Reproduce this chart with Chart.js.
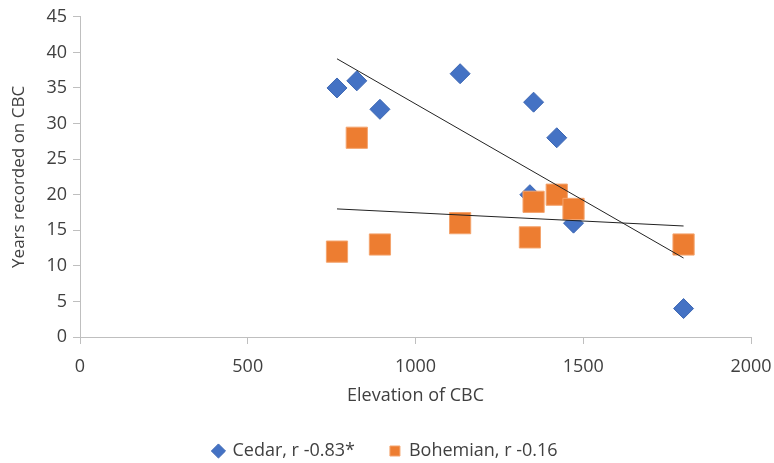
<!DOCTYPE html>
<html>
<head>
<meta charset="utf-8">
<script src="https://cdn.jsdelivr.net/npm/chart.js@4.4.0/dist/chart.umd.min.js"></script>
<style>
  html, body { margin: 0; padding: 0; background: #fff; }
  #wrap { width: 774px; height: 463px; }
</style>
</head>
<body>
<div id="wrap"><canvas id="chart"></canvas></div>
<script>
// elevation of each CBC site (m)
const elevation = [766, 825, 894, 1133, 1341, 1352, 1421, 1471, 1799];
const cedarYears = [35, 36, 32, 37, 20, 33, 28, 16, 4];
const bohemianYears = [12, 28, 13, 16, 14, 19, 20, 18, 13];

// linear trendline ends
const trendX = [766, 1799];
const cedarTrend = [39.1, 11.1];
const bohemianTrend = [18.0, 15.6];

const xTicks = [0, 500, 1000, 1500, 2000];
const yTicks = [0, 5, 10, 15, 20, 25, 30, 35, 40, 45];

const FONT = "'Open Sans', sans-serif";
const AXIS = "#bfbfbf";
const TEXT = "#404040";

const pts = (xs, ys) => xs.map((x, i) => ({ x: x, y: ys[i] }));

new Chart(document.getElementById("chart"), {
  type: "scatter",
  data: {
    datasets: [
      {
        label: "Cedar, r -0.83*",
        data: pts(elevation, cedarYears),
        pointStyle: "rectRot",
        pointRadius: 10,
        pointHoverRadius: 10,
        backgroundColor: "#4472c4",
        borderColor: "#3d67b3",
        borderWidth: 1,
        order: 2
      },
      {
        label: "Bohemian, r -0.16",
        data: pts(elevation, bohemianYears),
        pointStyle: "rect",
        pointRadius: 15,
        pointHoverRadius: 15,
        backgroundColor: "#ed7d31",
        borderColor: "#f4a46e",
        borderWidth: 1,
        order: 1
      },
      {
        label: "trendCedar",
        type: "line",
        data: pts(trendX, cedarTrend),
        borderColor: "#222",
        borderWidth: 1,
        pointRadius: 0,
        fill: false,
        order: 0
      },
      {
        label: "trendBohemian",
        type: "line",
        data: pts(trendX, bohemianTrend),
        borderColor: "#222",
        borderWidth: 1,
        pointRadius: 0,
        fill: false,
        order: 0
      }
    ]
  },
  options: {
    responsive: true,
    maintainAspectRatio: false,
    animation: false,
    layout: { padding: { top: 15, right: 23, left: 20, bottom: -7 } },
    plugins: {
      tooltip: { enabled: false },
      legend: {
        position: "bottom",
        labels: {
          usePointStyle: true,
          boxHeight: 10,
          boxWidth: 10,
          padding: 35,
          color: TEXT,
          font: { family: FONT, size: 18 },
          filter: item => item.datasetIndex < 2,
          sort: (a, b) => a.datasetIndex - b.datasetIndex
        }
      }
    },
    scales: {
      x: {
        type: "linear",
        min: 0,
        max: 2000,
        afterBuildTicks: s => { s.ticks = xTicks.map(v => ({ value: v })); },
        afterFit: s => { s.height = 70; s.paddingLeft = 0; s.paddingRight = 0; },
        grid: { drawOnChartArea: false, drawTicks: true, tickLength: 7, color: AXIS },
        border: { color: AXIS, width: 1 },
        ticks: { color: TEXT, font: { family: FONT, size: 18 }, padding: 12, callback: v => String(v) },
        title: {
          display: true,
          text: "Elevation of CBC",
          color: TEXT,
          font: { family: FONT, size: 18 },
          padding: { top: 0, bottom: 0 }
        }
      },
      y: {
        type: "linear",
        min: 0,
        max: 45,
        afterBuildTicks: s => { s.ticks = yTicks.map(v => ({ value: v })); },
        afterFit: s => { s.width = 60; },
        grid: { drawOnChartArea: false, drawTicks: true, tickLength: 7, color: AXIS },
        border: { color: AXIS, width: 1 },
        ticks: { color: TEXT, font: { family: FONT, size: 18 }, padding: 6 },
        title: {
          display: true,
          text: "Years recorded on CBC",
          color: TEXT,
          font: { family: FONT, size: 17 },
          padding: { top: -11, bottom: 0 }
        }
      }
    }
  }
});
</script>
</body>
</html>
